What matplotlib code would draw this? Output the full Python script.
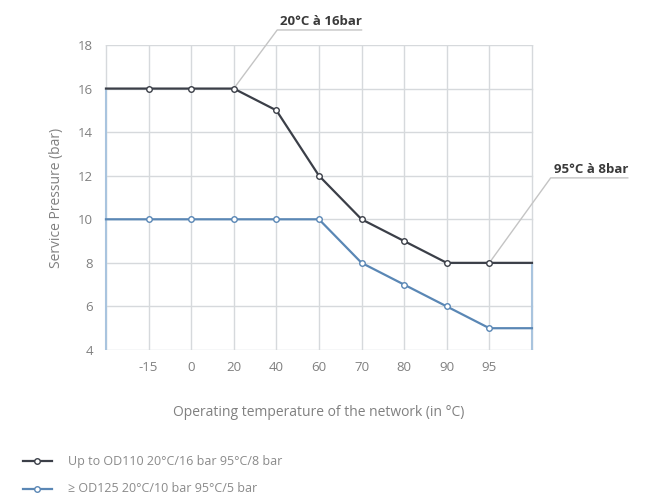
import matplotlib.pyplot as plt

plt.rcParams['font.family'] = ['Open Sans', 'DejaVu Sans']

# data ----------------------------------
temps = ['-15', '0', '20', '40', '60', '70', '80', '90', '95']
od110 = [16, 16, 16, 15, 12, 10, 9, 8, 8]
od125 = [10, 10, 10, 10, 10, 8, 7, 6, 5]
labels = ['Up to OD110 20°C/16 bar 95°C/8 bar', '≥ OD125 20°C/10 bar 95°C/5 bar']

dark = '#3b3f48'
blue = '#5a87b5'
grid_c = '#d6d9dc'
txt_c = '#808080'

fig = plt.figure(figsize=(6.45, 5.0), dpi=100)
ax = fig.add_axes([0.161, 0.30, 0.667, 0.61])

n = len(temps)
xs = list(range(1, n + 1))
left, right = 0, n + 1

# gridlines
for x in range(left, right + 1):
    ax.plot([x, x], [4, 18], color=grid_c, lw=1, zorder=1)
for y in range(4, 19, 2):
    ax.plot([left, right], [y, y], color=grid_c, lw=1, zorder=1)

# edge drops
ax.plot([left, left], [4, od110[0]], color='#a9c4de', lw=1.5, zorder=2)
ax.plot([right, right], [4, od110[-1]], color='#a9c4de', lw=1.5, zorder=2)

# series lines extended to the edges
ax.plot([left] + xs + [right], [od125[0]] + od125 + [od125[-1]], color=blue, lw=1.6, zorder=3)
ax.plot(xs, od125, ls='none', marker='o', ms=4, mfc='white', mec=blue, mew=1, zorder=4)
ax.plot([left] + xs + [right], [od110[0]] + od110 + [od110[-1]], color=dark, lw=1.6, zorder=3)
ax.plot(xs, od110, ls='none', marker='o', ms=4, mfc='white', mec=dark, mew=1, zorder=4)

ax.set_xlim(left - 0.05, right + 0.05)
ax.set_ylim(4, 18)
ax.set_xticks(xs)
ax.set_xticklabels(temps)
ax.set_yticks(range(4, 19, 2))
ax.tick_params(length=0, labelsize=9.5, colors=txt_c, pad=8)
for s in ax.spines.values():
    s.set_visible(False)
ax.set_ylabel('Service Pressure (bar)', color=txt_c, fontsize=10, labelpad=10)
ax.set_xlabel('Operating temperature of the network (in °C)', color=txt_c, fontsize=10, labelpad=22)

# callouts
call_c = '#c4c4c4'
ax.plot([3, 4.02, 6.0], [16, 18.69, 18.69], color=call_c, lw=1, clip_on=False)
ax.text(5.05, 18.8, '20°C à 16bar', fontsize=9.5, fontweight='bold', color='#3a3a3a',
        ha='center', va='bottom', clip_on=False)

ax.plot([9, 10.44, 12.25], [8, 11.9, 11.9], color=call_c, lw=1, clip_on=False)
ax.text(11.4, 12.0, '95°C à 8bar', fontsize=9.5, fontweight='bold', color='#3a3a3a',
        ha='center', va='bottom', clip_on=False)

# legend
for i, (lab, c) in enumerate(zip(labels, [dark, blue])):
    y = 0.078 - i * 0.055
    fig.add_artist(plt.Line2D([0.036, 0.081], [y, y], color=c, lw=1.6))
    fig.add_artist(plt.Line2D([0.057], [y], marker='o', ms=4, mfc='white', mec=c, mew=1))
    fig.text(0.105, y, lab, fontsize=9, color='#8a8a8a', va='center')

plt.savefig('out.png', dpi=100)
